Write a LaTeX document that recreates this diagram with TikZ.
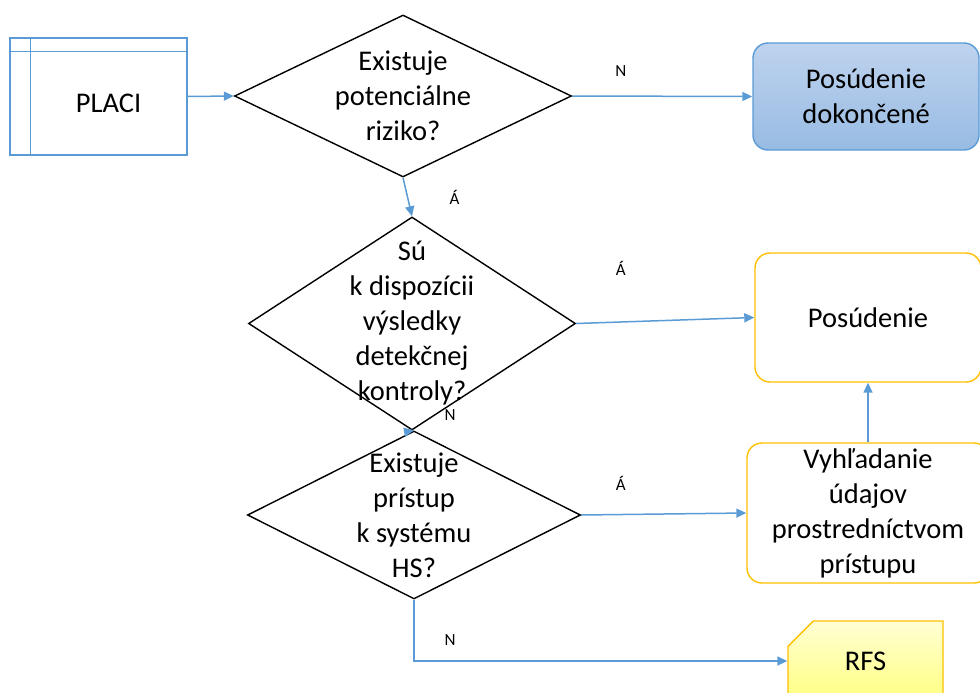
\documentclass[tikz,border=0pt]{standalone}
\usepackage{fontspec}
\setmainfont{Carlito}
\usepackage{xcolor}
\usetikzlibrary{shapes.geometric,shapes.misc,arrows.meta,positioning}

\definecolor{flowblue}{RGB}{91,155,213}
\definecolor{boxorange}{RGB}{255,192,0}
\definecolor{bluetop}{RGB}{190,211,238}
\definecolor{bluebot}{RGB}{152,187,227}
\definecolor{yelltop}{RGB}{255,255,212}
\definecolor{yellbot}{RGB}{255,255,128}

\tikzset{
  bigtxt/.style={font=\fontsize{28.5}{35}\selectfont, align=center},
  lbl/.style={font=\fontsize{17}{20}\selectfont, inner sep=0pt},
  flow/.style={draw=flowblue, line width=1.5pt, -{Triangle[length=10pt,width=9pt]}},
  decision/.style={diamond, draw=black, line width=1.4pt, inner sep=0pt},
  boxline/.style={draw=flowblue, line width=1.4pt},
  outcome/.style={rectangle, rounded corners=15pt, draw=boxorange, line width=1.4pt, bigtxt},
}

\begin{document}
\begin{tikzpicture}[x=1pt,y=-1pt]

\useasboundingbox (0,0) rectangle (980,693);

\node[rectangle, boxline, minimum width=177pt, minimum height=117pt,
  label={[bigtxt, xshift=10pt, yshift=-7pt]center:PLACI}] (placi) at (98.5,96.5) {};
\draw[boxline] ([xshift=21pt]placi.north west) -- ([xshift=21pt]placi.south west);
\draw[boxline] ([yshift=-14pt]placi.north west) -- ([yshift=-14pt]placi.north east);

\node[decision, minimum width=337pt, minimum height=162pt,
  label={[bigtxt]center:Existuje\\potenciálne\\riziko?}] (risk) at (403,96) {};
\node[decision, minimum width=327pt, minimum height=213pt,
  label={[bigtxt]center:Sú\\k dispozícii\\výsledky\\detekčnej\\kontroly?}] (detect) at (412,323.5) {};
\node[decision, minimum width=333pt, minimum height=168pt,
  label={[bigtxt]center:Existuje\\prístup\\k systému\\HS?}] (access) at (414,515) {};

\node[rectangle, rounded corners=15pt, draw=flowblue, line width=1.4pt,
  top color=bluetop, bottom color=bluebot, bigtxt,
  minimum width=226pt, minimum height=107pt] (done) at (866,96.5) {Posúdenie\\dokončené};
\node[outcome, minimum width=226pt, minimum height=129pt] (assess) at (868,317.5) {Posúdenie};
\node[outcome, minimum width=242pt, minimum height=140pt] (search) at (868,513)
  {Vyhľadanie\\údajov\\prostredníctvom\\prístupu};
\node[chamfered rectangle, chamfered rectangle corners=north west,
  chamfered rectangle xsep=31pt, chamfered rectangle ysep=16pt,
  draw=boxorange, line width=1.4pt, top color=yelltop, bottom color=yellbot, bigtxt,
  inner sep=0pt, minimum width=155pt, minimum height=80pt] (rfs) at (865.5,661) {RFS};

\draw[flow] (placi.east) -- (risk.west);
\draw[flow] (risk.east) -- node[lbl, pos=0.27, yshift=25pt] {N} (done.west);
\draw[flow] (risk.south) -- node[lbl, xshift=47pt] {Á} (detect.north);
\draw[flow] (detect.east) -- node[lbl, pos=0.25, yshift=54pt] {Á} (assess.west);
\draw[flow] (detect.south) -- node[lbl, xshift=37pt, yshift=15pt] {N} (access.north);
\draw[flow] (access.east) -- node[lbl, pos=0.24, yshift=31pt] {Á} (search.west);
\draw[flow] (search.north) -- (assess.south);
\draw[flow] (access.south) |- node[lbl, pos=0.5, xshift=36pt, yshift=21pt] {N} (rfs.west);

\end{tikzpicture}
\end{document}
